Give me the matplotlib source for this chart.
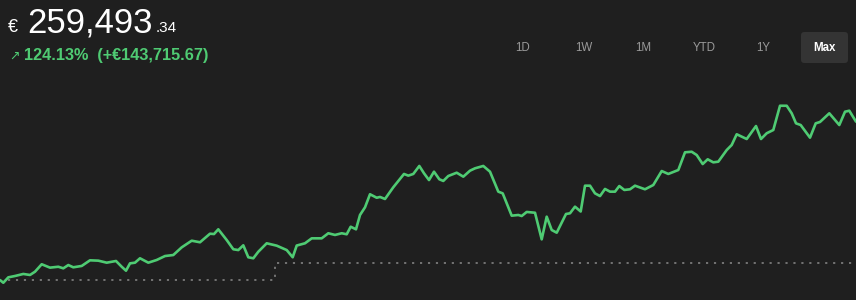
import matplotlib
matplotlib.use("Agg")
import matplotlib.pyplot as plt
from matplotlib.patches import FancyBboxPatch

# ---- data (value in thousands of EUR, time in days since start) ----
days = [0, 3.3, 8.3, 15, 23.3, 30, 35, 41.7, 50, 58.3, 63.3, 68.3, 73.3, 81.7, 90, 98.3,
        106.7, 116, 121.7, 126, 130, 135, 140, 148.3, 156.7, 165, 173.3, 181.7, 191.7, 200,
        210, 214, 218.3, 226.7, 233.3, 238.3, 243.3, 248.3, 253.3, 258.3, 266.7, 276.7,
        286.7, 292.7, 296.7, 305, 311.7, 321.7, 328.3, 335, 341.7, 346.7, 350.7, 356, 360,
        365, 370, 376.7, 380, 385, 393.3, 404, 408.3, 413.3, 419.3, 424, 429, 434, 439.3,
        443.3, 448.3, 456.7, 463.3, 470, 475, 483.3, 490, 498.3, 502.7, 511.7, 518.3, 521.7,
        526.7, 535, 541.7, 546.7, 551.7, 556.7, 566, 570, 575, 580.7, 585, 590, 595, 600,
        605, 610, 615, 619.3, 624.3, 630, 635, 645, 653.3, 661.7, 668.3, 678.3, 685, 691.7,
        696.7, 702.7, 707.7, 713.3, 718.3, 726.7, 731.7, 736.7, 746.7, 756, 761, 766.7,
        773.3, 780, 786.7, 791.7, 796, 800.7, 810, 815.7, 820, 829.3, 839.3, 845, 849.3, 856]
values = [119.0, 116.6, 121.4, 122.6, 124.4, 123.5, 126.4, 133.0, 130.0, 130.8, 129.4, 132.3,
          130.3, 131.5, 136.5, 136.2, 134.4, 135.9, 130.8, 127.3, 133.8, 134.4, 138.3, 134.4,
          136.8, 140.3, 141.2, 148.0, 153.9, 152.5, 160.1, 159.8, 164.0, 154.5, 146.3, 145.6,
          149.8, 139.2, 138.3, 144.1, 151.6, 149.5, 145.6, 139.2, 149.6, 151.6, 156.0, 156.0,
          160.5, 159.0, 160.5, 159.6, 166.3, 164.0, 176.7, 183.5, 195.1, 192.0, 192.7, 190.9,
          201.3, 213.1, 211.6, 213.1, 220.2, 213.7, 207.7, 215.1, 208.4, 206.9, 211.3, 214.2,
          210.7, 216.0, 218.1, 220.2, 215.1, 197.4, 195.9, 176.1, 176.7, 175.8, 179.4, 178.7,
          155.1, 175.2, 163.4, 161.0, 177.6, 178.2, 184.1, 179.8, 202.7, 202.7, 195.9, 193.5,
          199.8, 197.4, 197.4, 202.4, 198.9, 199.5, 202.7, 199.5, 203.3, 215.7, 213.1, 216.6,
          232.3, 232.8, 229.9, 221.9, 226.1, 223.4, 224.0, 234.3, 238.8, 248.3, 244.1, 255.6,
          244.1, 249.2, 252.1, 273.6, 273.6, 266.9, 258.0, 256.5, 245.3, 258.0, 259.2, 266.9,
          256.5, 268.3, 269.2, 259.5]

invested_days = [8, 275, 856]
invested_values = [119.0, 134.1, 134.1]

ranges = ["1D", "1W", "1M", "YTD", "1Y", "Max"]
selected_range = "Max"

total_main = "259,493"
total_cents = ".34"
change_arrow = "↗"
change_text = "124.13%  (+€143,715.67)"

# ---- style ----
BG = "#1f1f1f"
GREEN = "#4fcb73"
W, H = 856, 300

fig = plt.figure(figsize=(W / 100, H / 100), dpi=100, facecolor=BG)
ax = fig.add_axes([0, 0, 1, 1])
ax.set_facecolor(BG)
ax.set_xlim(0, 856)
ax.set_ylim(101.3, 367.4)
ax.axis("off")

ax.plot(invested_days, invested_values, drawstyle="steps-post", color="#7a7a7a",
        lw=1.3, linestyle=(0, (1.2, 3.2)), zorder=1)
ax.plot(days, values, color=GREEN, lw=1.9, solid_joinstyle="round",
        solid_capstyle="round", zorder=2)


def fx(x):
    return x / W


def fy(y):
    return 1 - y / H


font = ["Liberation Sans", "DejaVu Sans"]
fig.text(fx(8), fy(32), "€", color="white", fontsize=13, family=font,
         va="baseline", ha="left")
fig.text(fx(27), fy(32.5), total_main, color="white", fontsize=25, family=font,
         va="baseline", ha="left")
fig.text(fx(156), fy(32), total_cents, color="white", fontsize=11, family=font,
         va="baseline", ha="left")
fig.text(fx(9), fy(60), change_arrow, color=GREEN, fontsize=9, family=["DejaVu Sans"],
         va="baseline", ha="left")
fig.text(fx(24), fy(60), change_text, color=GREEN, fontsize=11.7, family=font,
         fontweight="bold", va="baseline", ha="left")

centers = [523, 584, 643, 704, 763, 824]
for lab, cx in zip(ranges, centers):
    if lab == selected_range:
        box = FancyBboxPatch((fx(801), fy(63)), fx(47), 31 / H,
                             boxstyle="round,pad=0,rounding_size=0.004",
                             transform=fig.transFigure, facecolor="#343434",
                             edgecolor="none", mutation_aspect=W / H)
        fig.patches.append(box)
        fig.text(fx(cx), fy(48), lab, color="white", fontsize=8.3, family=font,
                 fontweight="bold", ha="center", va="center")
    else:
        fig.text(fx(cx), fy(48), lab, color="#9a9a9a", fontsize=8.3, family=font,
                 ha="center", va="center")

fig.savefig("out.png", dpi=100, facecolor=BG)
